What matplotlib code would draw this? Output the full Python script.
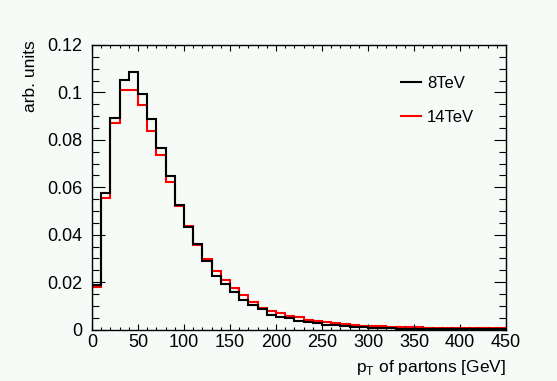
import matplotlib
matplotlib.use("Agg")
import matplotlib.pyplot as plt
import numpy as np
from matplotlib.lines import Line2D
from matplotlib.ticker import MultipleLocator

# bin edges of the pT histogram (10 GeV bins from 0 to 450)
bin_edges = np.arange(0, 460, 10)

# normalised parton pT spectra
pt_8tev = [
    0.0190, 0.0574, 0.0893, 0.1052, 0.1085, 0.0992, 0.0887, 0.0764, 0.0649, 0.0525,
    0.0432, 0.0361, 0.0290, 0.0227, 0.0193, 0.0159, 0.0124, 0.0103, 0.0085, 0.0061,
    0.0053, 0.0047, 0.0037, 0.0030, 0.0026, 0.0021, 0.0019, 0.0015, 0.0012, 0.0009,
    0.0007, 0.0006, 0.0005, 0.0004, 0.0004, 0.0003, 0.0003, 0.0002, 0.0002, 0.00015,
    0.00015, 0.0001, 0.0001, 0.0001, 0.0001,
]
pt_14tev = [
    0.0180, 0.0555, 0.0872, 0.1008, 0.1012, 0.0947, 0.0838, 0.0735, 0.0624, 0.0522,
    0.0436, 0.0357, 0.0298, 0.0249, 0.0211, 0.0177, 0.0146, 0.0117, 0.0093, 0.0080,
    0.0068, 0.0057, 0.0051, 0.0040, 0.0036, 0.0031, 0.0028, 0.0024, 0.0019, 0.0016,
    0.0015, 0.0015, 0.0012, 0.0012, 0.0010, 0.0009, 0.0008, 0.0008, 0.0008, 0.0007,
    0.0007, 0.0007, 0.0006, 0.0006, 0.0006,
]
labels = ["8TeV", "14TeV"]
x_ticks = [0, 50, 100, 150, 200, 250, 300, 350, 400, 450]
y_ticks = [0, 0.02, 0.04, 0.06, 0.08, 0.1, 0.12]
y_tick_labels = ["0", "0.02", "0.04", "0.06", "0.08", "0.1", "0.12"]

plt.rcParams["font.family"] = ["Liberation Sans", "DejaVu Sans"]
bg = "#f6fbf8"

fig = plt.figure(figsize=(5.57, 3.81), dpi=100, facecolor=bg)
ax = fig.add_axes([0.165, 0.135, 0.7435, 0.747], facecolor=bg)

# red first so the black one sits on top, like in the original
ax.stairs(pt_14tev, bin_edges, color="#ff0000", linewidth=1.5)
ax.stairs(pt_8tev, bin_edges, color="black", linewidth=1.5)

ax.set_xlim(0, 450)
ax.set_ylim(0, 0.12)
ax.set_xticks(x_ticks)
ax.set_yticks(y_ticks)
ax.set_yticklabels(y_tick_labels)
ax.xaxis.set_minor_locator(MultipleLocator(10))
ax.yaxis.set_minor_locator(MultipleLocator(0.005))

ax.tick_params(axis="both", which="both", direction="in", top=True, right=True,
               labelsize=13, color="black")
ax.tick_params(axis="x", which="major", length=4.5, width=0.8, pad=3)
ax.tick_params(axis="x", which="minor", length=2.2, width=0.8)
ax.tick_params(axis="y", which="major", length=9, width=0.8, pad=7)
ax.tick_params(axis="y", which="minor", length=5, width=0.8)
for spine in ax.spines.values():
    spine.set_linewidth(1.0)

ax.set_xlabel("p$_{\\mathregular{T}}$ of partons [GeV]", fontsize=12.5, ha="right")
ax.xaxis.set_label_coords(1.0, -0.1)
ax.set_ylabel("arb. units", fontsize=12.5, ha="right")
ax.yaxis.set_label_coords(-0.13, 1.018)

# legend without frame, entries in the same order as the reference
proxy = [Line2D([], [], color="black", lw=1.5), Line2D([], [], color="#ff0000", lw=1.5)]
ax.legend(proxy, labels, loc="upper left", bbox_to_anchor=(0.71, 0.945), frameon=False,
          fontsize=12, handlelength=1.2, handletextpad=0.35, labelspacing=1.15)

fig.savefig("out.png", dpi=100, facecolor=bg)
